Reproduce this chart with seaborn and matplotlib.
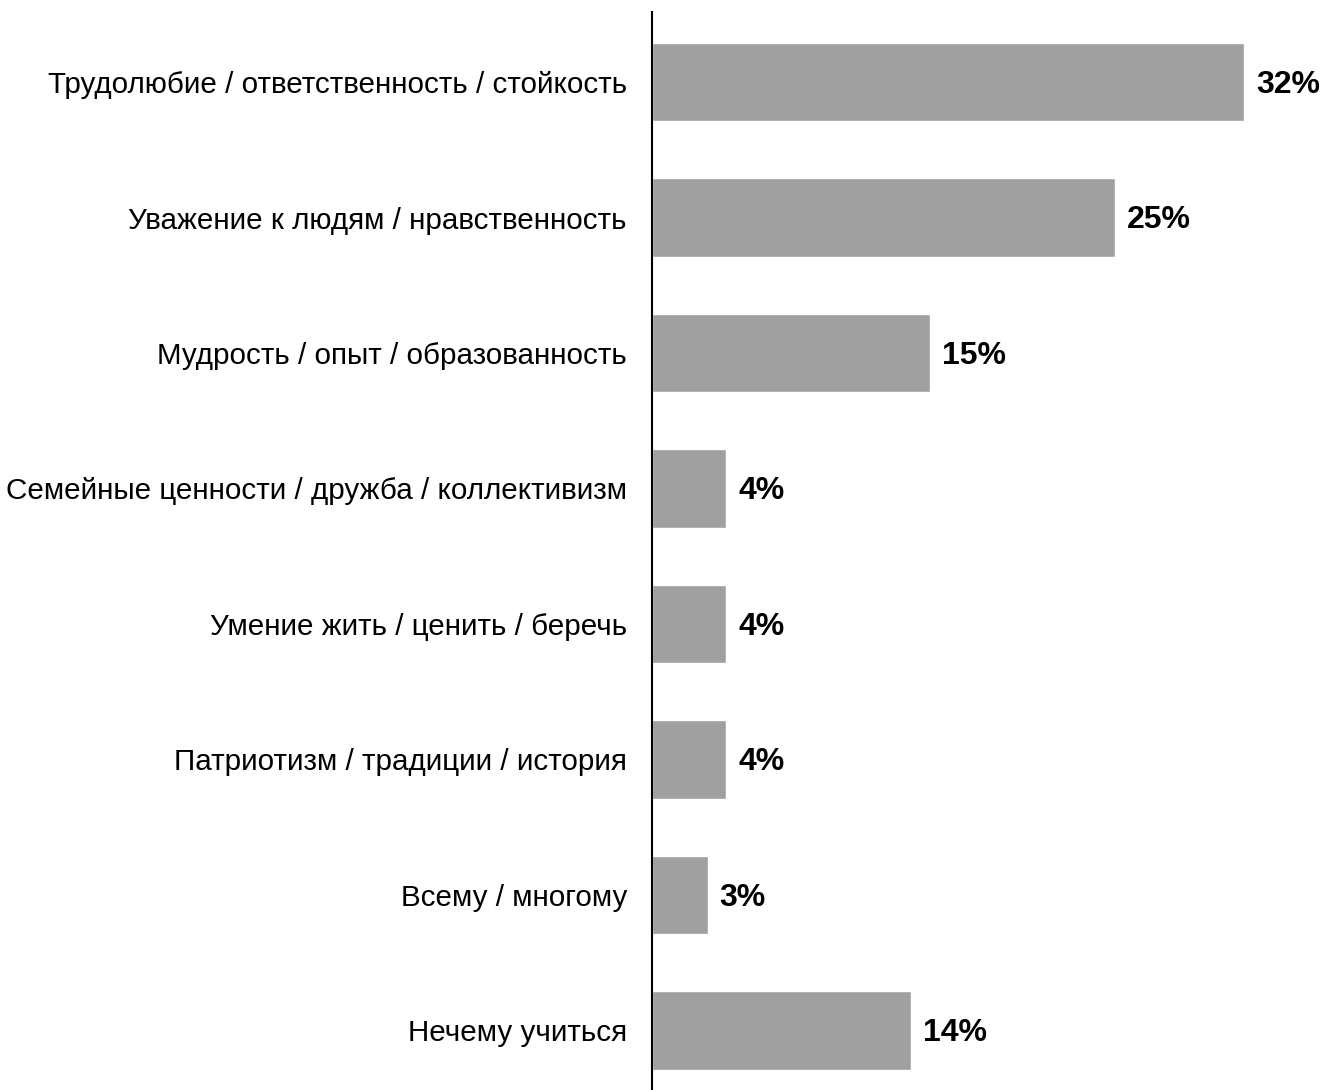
import matplotlib
matplotlib.use("Agg")
import matplotlib.pyplot as plt
import seaborn as sns
import pandas as pd

categories = [
    "Трудолюбие / ответственность / стойкость",
    "Уважение к людям / нравственность",
    "Мудрость / опыт / образованность",
    "Семейные ценности / дружба / коллективизм",
    "Умение жить / ценить / беречь",
    "Патриотизм / традиции / история",
    "Всему / многому",
    "Нечему учиться",
]
values = [32, 25, 15, 4, 4, 4, 3, 14]

df = pd.DataFrame({"category": categories, "value": values})

sns.set_style("white")
plt.rcParams['font.family'] = ['Liberation Sans', 'DejaVu Sans']

fig = plt.figure(figsize=(13.22, 10.9), dpi=100)
ax = fig.add_axes([652 / 1322, 0, 1 - 652 / 1322, 1 - 12 / 1090])

sns.barplot(data=df, x="value", y="category", color="#a0a0a0", saturation=1,
            width=0.58, ax=ax)

for i, v in enumerate(values):
    ax.text(v + 0.65, i + 0.02, f"{v}%", va="center", ha="left",
            fontsize=23, fontweight="bold", color="black")

ax.set_xlim(0, (1322 - 652) / 18.5)
ax.set_ylim(7.44, -0.517)
ax.set_xlabel("")
ax.set_ylabel("")
ax.set_xticks([])
ax.tick_params(axis="y", length=0, pad=18, labelsize=21.3, labelcolor="black")
for s in ["top", "right", "bottom"]:
    ax.spines[s].set_visible(False)
ax.spines["left"].set_color("black")
ax.spines["left"].set_linewidth(1.5)

fig.savefig("out.png", dpi=100)
